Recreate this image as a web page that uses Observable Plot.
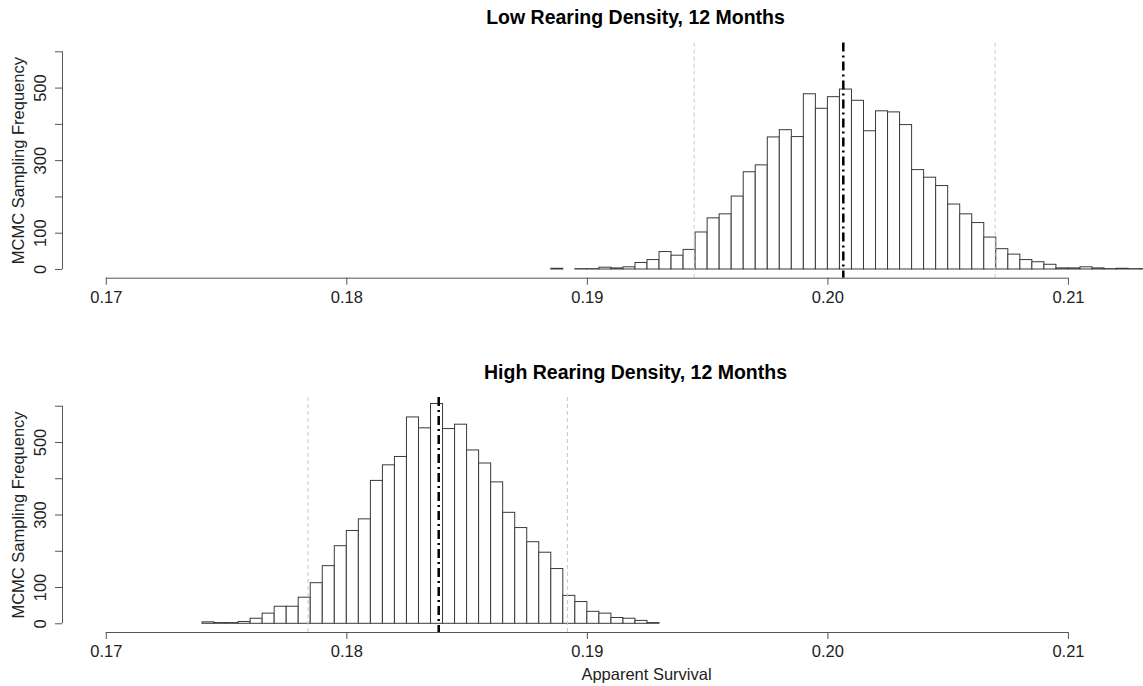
<!DOCTYPE html>
<html><head><meta charset="utf-8">
<script src="https://cdn.jsdelivr.net/npm/d3@7"></script>
<script src="https://cdn.jsdelivr.net/npm/@observablehq/plot@0.6"></script>
<style>
html,body{margin:0;padding:0;background:#fff;overflow:hidden}
#chart{width:1143px;height:686px;position:relative;background:#fff}
#chart svg{display:block}
</style></head><body><div id="chart"></div>
<script>
// ---- data ----
const binWidth = 0.0005;
const lowTitle = "Low Rearing Density, 12 Months";
const lowStart = 0.1885;
const lowCounts = [2,0,1,1,5,3,6,18,26,48,38,54,102,141,152,201,268,287,364,384,365,483,443,475,496,465,381,436,433,398,274,253,230,179,152,128,88,56,41,26,20,13,3,3,6,3,1,2,1,1];
const lowMean = 0.20064;
const lowCI = [0.19444, 0.20695];

const highTitle = "High Rearing Density, 12 Months";
const highStart = 0.174;
const highCounts = [4,2,2,5,14,28,47,47,72,112,159,214,256,288,394,437,460,569,539,606,537,549,478,442,390,306,264,225,196,151,77,60,33,28,16,14,8,2];
const highMean = 0.18382;
const highCI = [0.17839, 0.18917];

const xTicks = [0.17, 0.18, 0.19, 0.20, 0.21];
const yTicks = [0, 100, 200, 300, 400, 500, 600];
const yTickLabels = [0, 100, 300, 500];
const yTitle = "MCMC Sampling Frequency";
const xTitle = "Apparent Survival";

// ---- layout ----
const xDomain = [0.16818, 0.21312];
const yDomain = [-24, 624];
const FONT = "'Liberation Sans', Arial, Helvetica, sans-serif";

function panel({title, counts, start, mean, ci, height, marginTop, marginBottom, showXTitle}) {
  const bins = counts.map((c, i) => ({
    x1: +(start + i * binWidth).toFixed(4),
    x2: +(start + (i + 1) * binWidth).toFixed(4),
    count: c
  }));
  const marks = [
    Plot.rectY(bins.filter(d => d.count > 0), {x1: "x1", x2: "x2", y1: 0, y2: "count", fill: "white", stroke: "#3a3a3a", strokeWidth: 1, clip: true}),
    Plot.ruleX(ci, {stroke: "#c8c8c8", strokeDasharray: "4,3", strokeWidth: 1}),
    Plot.ruleX([mean], {stroke: "black", strokeWidth: 2.5, strokeDasharray: "9,4,2,4"}),
    Plot.ruleY([yDomain[0]], {x1: xTicks[0], x2: xTicks[xTicks.length - 1], stroke: "#555"}),
    Plot.ruleX([xDomain[0]], {y1: yTicks[0], y2: yTicks[yTicks.length - 1], stroke: "#555"}),
    Plot.axisX({ticks: xTicks, tickSize: 7, tickPadding: 6, tickFormat: d => d.toFixed(2), label: null, stroke: "#555", fill: "#222", fontSize: 16.5}),
    Plot.axisY({ticks: yTicks, tickSize: 7, tickFormat: () => "", label: null, stroke: "#555"}),
    Plot.text(yTickLabels, {y: d => d, text: d => String(d), rotate: -90, frameAnchor: "left", textAnchor: "middle", lineAnchor: "middle", dx: -22, fill: "#222", fontSize: 16.5}),
    Plot.text([yTitle], {text: d => d, frameAnchor: "left", textAnchor: "middle", lineAnchor: "middle", rotate: -90, dx: -44, fill: "#222", fontSize: 16.5}),
    Plot.text([title], {text: d => d, frameAnchor: "top", textAnchor: "middle", lineAnchor: "middle", dy: -25, dx: 32.5, fontWeight: "bold", fontSize: 19.5, fill: "black"})
  ];
  if (showXTitle) {
    marks.push(Plot.text([xTitle], {text: d => d, frameAnchor: "bottom", textAnchor: "middle", lineAnchor: "middle", dy: 42, dx: 43.5, fill: "#222", fontSize: 16.5}));
  }
  return Plot.plot({
    width: 1143, height, marginLeft: 62, marginRight: 0, marginTop, marginBottom,
    x: {domain: xDomain},
    y: {domain: yDomain},
    style: {fontFamily: FONT, fontSize: "16.5px", color: "#222", background: "#fff", overflow: "visible"},
    marks
  });
}

const chart = document.getElementById("chart");
chart.append(panel({title: lowTitle, counts: lowCounts, start: lowStart, mean: lowMean, ci: lowCI, height: 354, marginTop: 42.6, marginBottom: 76.3, showXTitle: false}));
chart.append(panel({title: highTitle, counts: highCounts, start: highStart, mean: highMean, ci: highCI, height: 332, marginTop: 43, marginBottom: 54, showXTitle: true}));
</script>
</body></html>
